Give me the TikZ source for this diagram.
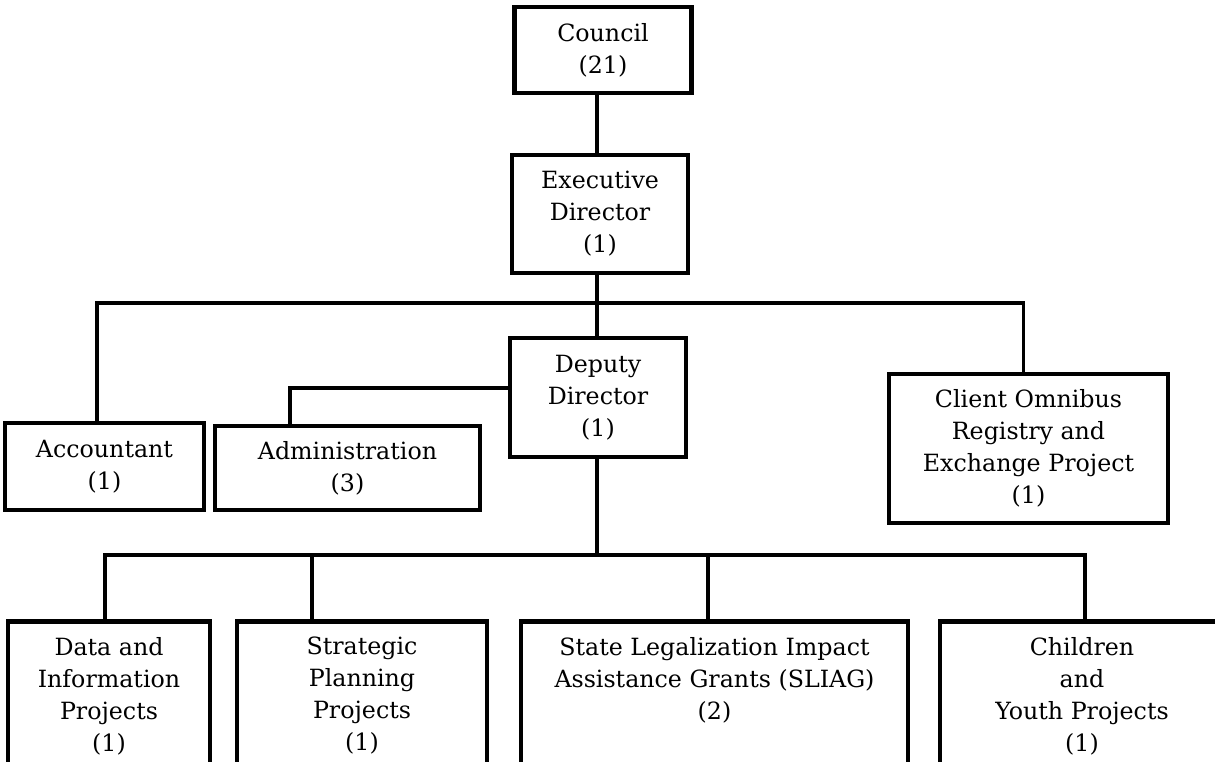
\documentclass[tikz,border=0pt]{standalone}
\usepackage{fontspec}
\setmainfont{DejaVu Serif}

\tikzset{
    unit/.style={draw, line width=2.8pt, align=center, inner sep=0pt,
        font=\fontsize{13.5}{18.2}\selectfont},
    unittext/.style={align=center, inner sep=0pt, anchor=north,
        font=\fontsize{13.5}{18.2}\selectfont},
    link/.style={line width=2.2pt}
}

\begin{document}
\begin{tikzpicture}[x=0.2mm, y=-0.2mm]

        \useasboundingbox (0,0) rectangle (1215,761);
        \clip (0,0) rectangle (1215,761);

        % top of the chart
        \node[unit, minimum width=35.4mm, minimum height=17.2mm] (council) at (603,50) {Council\\(21)};
        \node[unit, minimum width=35.2mm, minimum height=23.6mm] (exec) at (600,214) {Executive\\Director\\(1)};
        \node[unit, minimum width=35.2mm, minimum height=23.8mm] (dep) at (598,397.5) {Deputy\\Director\\(1)};

        % second row
        \node[unit, minimum width=39.8mm, minimum height=17.4mm] (acct) at (104.5,466.5) {Accountant\\(1)};
        \node[unit, minimum width=53mm, minimum height=16.8mm] (adm) at (347.5,468) {Administration\\(3)};
        \node[unit, minimum width=55.8mm, minimum height=29.8mm] (cor) at (1028.5,448.5) {Client Omnibus\\Registry and\\Exchange Project\\(1)};

        % bottom row, cut by the page edge
        \node[unit, anchor=north, minimum width=40.4mm, minimum height=32mm] (dat) at (109,619) {};
        \node[unittext] (dattext) at (109,637) {Data and\\Information\\Projects\\(1)};
        \node[unit, anchor=north, minimum width=50mm, minimum height=32mm] (stp) at (362,619) {};
        \node[unittext] (stptext) at (362,637) {Strategic\\Planning\\Projects\\(1)};
        \node[unit, anchor=north, minimum width=77.4mm, minimum height=32mm] (sli) at (714.5,619) {};
        \node[unittext] (slitext) at (714.5,637) {State Legalization Impact\\Assistance Grants (SLIAG)\\(2)};
        \node[unit, anchor=north, minimum width=56.8mm, minimum height=32mm] (chi) at (1082,619) {};
        \node[unittext] (chitext) at (1082,637) {Children\\and\\Youth Projects\\(1)};

        % upper lines
        \coordinate (bus) at (597,303);
        \draw[link] (bus |- council.south) -- (bus |- exec.north);
        \draw[link] (bus |- exec.south) -- (bus |- dep.north);
        \draw[link] ([xshift=-1.5mm]acct.north) |- (bus) -| ([xshift=-1mm]cor.north);
        \draw[link] ([xshift=-11.5mm]adm.north) |- ([yshift=1.9mm]dep.west);

        % lower lines
        \coordinate (low) at (597,555);
        \draw[link] (low |- dep.south) -- (low);
        \draw[link] ([xshift=-0.8mm]dat.north) |- (low) -| ([xshift=0.6mm]chi.north);
        \draw[link] ([xshift=-10mm]stp.north) -- ([xshift=-10mm]stp.north |- low);
        \draw[link] ([xshift=-1.3mm]sli.north) -- ([xshift=-1.3mm]sli.north |- low);

    \end{tikzpicture}
\end{document}
